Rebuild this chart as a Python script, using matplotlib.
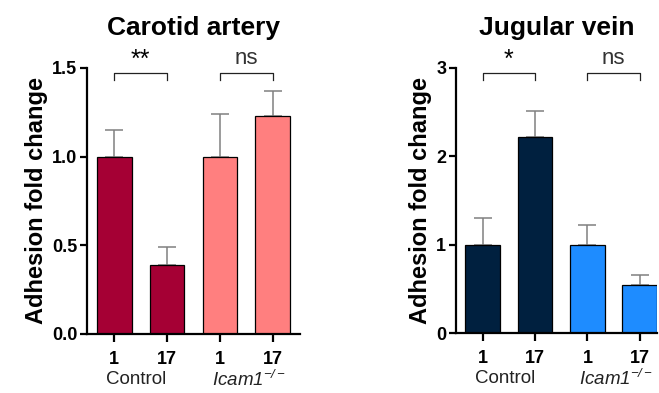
import matplotlib
matplotlib.use("Agg")
import matplotlib.pyplot as plt

plt.rcParams['font.family'] = ['Liberation Sans', 'DejaVu Sans']
plt.rcParams['mathtext.fontset'] = 'custom'
plt.rcParams['mathtext.rm'] = 'Liberation Sans:italic'
plt.rcParams['mathtext.it'] = 'Liberation Sans:italic'
plt.rcParams['mathtext.default'] = 'it'

# data
days = ['1', '17', '1', '17']
groups = ['Control', 'Icam1']

carotid_mean = [1.00, 0.39, 1.00, 1.23]
carotid_err = [0.15, 0.10, 0.24, 0.14]
carotid_colors = ['#A50034', '#A50034', '#FF7F7F', '#FF7F7F']
carotid_sig = ['**', 'ns']

jugular_mean = [1.00, 2.22, 1.00, 0.54]
jugular_err = [0.30, 0.29, 0.22, 0.12]
jugular_colors = ['#00203F', '#00203F', '#1E8CFF', '#1E8CFF']
jugular_sig = ['*', 'ns']

fig = plt.figure(figsize=(6.59, 3.93), dpi=100)


def panel(rect, title, means, errs, colors, sig, ymax, yticks, yticklabels, xmax, br_y, br_drop):
    ax = fig.add_axes(rect)
    x = range(len(means))
    ax.errorbar(x, means, yerr=[[0] * len(errs), errs], fmt='none', ecolor='#808080',
                elinewidth=1.1, capsize=6.5, capthick=1.1, zorder=1)
    ax.bar(x, means, width=0.66, color=colors, edgecolor='black', linewidth=0.9, zorder=2)
    ax.set_xlim(-0.51, xmax)
    ax.set_ylim(0, ymax)
    ax.set_yticks(yticks)
    ax.set_yticklabels(yticklabels, fontsize=13, fontweight='bold')
    ax.set_xticks(list(x))
    ax.set_xticklabels(days, fontsize=13, fontweight='bold')
    for s in ['top', 'right']:
        ax.spines[s].set_visible(False)
    ax.spines['left'].set_linewidth(1.6)
    ax.spines['bottom'].set_linewidth(1.6)
    ax.tick_params(axis='y', length=5, width=1.6, pad=2)
    ax.tick_params(axis='x', length=6, width=1.6, pad=6)
    ax.set_ylabel('Adhesion fold change', fontsize=17, fontweight='bold', labelpad=3)
    ax.set_title(title, fontsize=19, fontweight='bold', pad=24)

    # significance brackets
    for i, lab in enumerate(sig):
        a, b = 2 * i, 2 * i + 1
        ax.plot([a, a, b, b], [br_y - br_drop, br_y, br_y, br_y - br_drop],
                color='#222222', lw=0.9, clip_on=False)
        if lab == 'ns':
            ax.text((a + b) / 2, br_y + br_drop * 0.6, lab, ha='center', va='bottom',
                    fontsize=16, color='#333333')
        else:
            ax.text((a + b) / 2, br_y + br_drop * 0.1, lab, ha='center', va='bottom',
                    fontsize=18, color='black')

    # group labels
    ax.text(0.42, -0.172, groups[0], transform=ax.get_xaxis_transform(),
            ha='center', va='center', fontsize=13.5, color='#222222')
    ax.text(2.55, -0.172, r'$' + groups[1] + r'^{-/-}$',
            transform=ax.get_xaxis_transform(), ha='center', va='center', fontsize=13.5,
            color='#222222')
    return ax


panel([87 / 659, 59 / 393, 213 / 659, 266 / 393], 'Carotid artery',
      carotid_mean, carotid_err, carotid_colors, carotid_sig,
      1.5, [0, 0.5, 1.0, 1.5], ['0.0', '0.5', '1.0', '1.5'], 3.51, 1.472, 0.04)

panel([456 / 659, 60 / 393, 201 / 659, 265 / 393], 'Jugular vein',
      jugular_mean, jugular_err, jugular_colors, jugular_sig,
      3, [0, 1, 2, 3], ['0', '1', '2', '3'], 3.33, 2.944, 0.08)

fig.savefig('out.png', dpi=100)
